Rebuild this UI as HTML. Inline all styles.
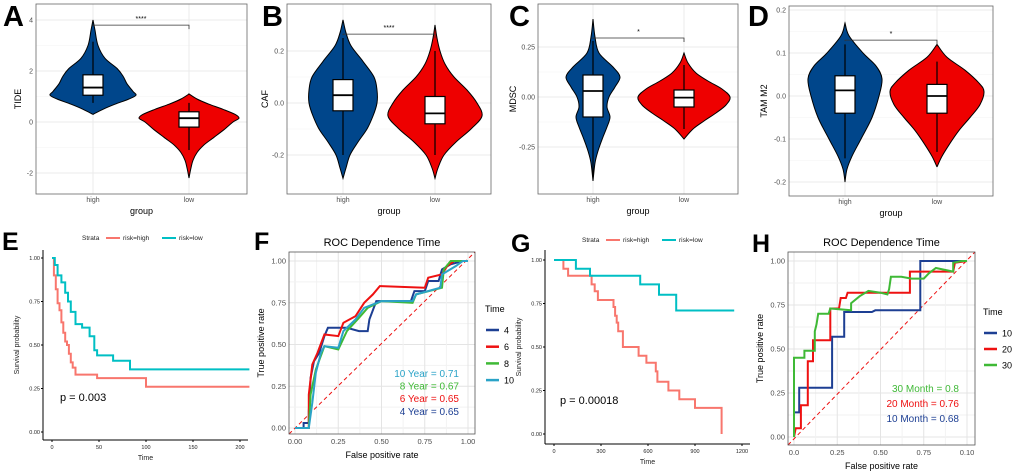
<!DOCTYPE html>
<html><head><meta charset="utf-8">
<style>
html,body{margin:0;padding:0;background:#fff;}
svg{display:block;font-family:"Liberation Sans",Arial,sans-serif;}
</style></head>
<body>
<svg id="fig" width="1020" height="474" viewBox="0 0 1020 474" xmlns="http://www.w3.org/2000/svg"></svg>
<script>
// ---------- DATA ----------
// Violin panels: density levels (value) and half-widths (relative density), boxes
const violinGroups = ["high","low"];
const aHighY = [4.0,3.6,3.0,2.5,2.1,1.8,1.5,1.2,1.05,0.9,0.7,0.5,0.3];
const aHighW = [0,2,5,12,24,30,34,40,43,36,22,10,0];
const aLowY = [1.1,0.9,0.7,0.5,0.3,0.15,0,-0.3,-0.6,-0.9,-1.2,-1.5,-1.8,-2.2];
const aLowW = [0,8,20,34,46,50,44,35,25,15,8,4,2,0];
const aHighBox = [0.75,1.05,1.35,1.85,3.15];
const aLowBox = [-1.1,-0.2,0.15,0.4,0.75];
const bHighY = [0.32,0.27,0.22,0.16,0.1,0.05,0.0,-0.05,-0.1,-0.15,-0.2,-0.25,-0.29];
const bHighW = [0,3,8,20,31,34,34,30,24,15,7,3,0];
const bLowY = [0.3,0.25,0.2,0.15,0.1,0.05,0,-0.05,-0.1,-0.15,-0.2,-0.25,-0.29];
const bLowW = [0,2,5,10,19,32,42,47,36,21,9,3,0];
const bHighBox = [-0.2,-0.03,0.03,0.09,0.25];
const bLowBox = [-0.2,-0.08,-0.04,0.025,0.2];
const cHighY = [0.39,0.3,0.22,0.15,0.1,0.05,0,-0.05,-0.1,-0.15,-0.2,-0.27,-0.33,-0.42];
const cHighW = [0,2,6,20,27,22,16,14,17,14,10,5,2,0];
const cLowY = [0.22,0.17,0.12,0.08,0.04,0.0,-0.04,-0.08,-0.12,-0.16,-0.21];
const cLowW = [0,4,12,24,38,46,42,32,20,9,0];
const cHighBox = [-0.4,-0.1,0.03,0.11,0.28];
const cLowBox = [-0.16,-0.05,-0.003,0.035,0.16];
const dHighY = [0.17,0.14,0.1,0.07,0.04,0.0,-0.05,-0.1,-0.14,-0.17,-0.2];
const dHighW = [0,4,18,31,37,34,27,16,7,2,0];
const dLowY = [0.12,0.09,0.06,0.03,0.01,-0.02,-0.05,-0.08,-0.11,-0.14,-0.165];
const dLowW = [0,10,28,42,47,43,33,22,13,5,0];
const dHighBox = [-0.145,-0.04,0.013,0.047,0.12];
const dLowBox = [-0.13,-0.04,0.0,0.027,0.08];

// KM E
const eHighT = [0,2,4,6,8,10,12,14,16,18,20,22,25,48,100,210];
const eHighS = [1.0,0.9,0.82,0.74,0.7,0.63,0.57,0.52,0.5,0.45,0.4,0.37,0.33,0.31,0.26,0.26];
const eLowT = [0,3,6,10,14,17,20,25,32,40,45,48,65,83,210];
const eLowS = [1.0,0.96,0.9,0.86,0.8,0.75,0.69,0.62,0.6,0.55,0.47,0.44,0.41,0.36,0.36];
// KM G
const gHighT = [0,60,90,240,260,280,380,390,400,410,440,540,590,650,660,730,800,900,1070];
const gHighS = [1.0,0.95,0.91,0.86,0.82,0.77,0.73,0.68,0.64,0.59,0.5,0.45,0.41,0.36,0.3,0.25,0.2,0.15,0.0];
const gLowT = [0,140,230,550,670,780,1150];
const gLowS = [1.0,0.95,0.91,0.86,0.8,0.71,0.71];

// ROC F
const f4x = [0,0.05,0.05,0.08,0.08,0.09,0.11,0.14,0.17,0.19,0.3,0.37,0.42,0.43,0.47,0.67,0.69,0.75,0.77,0.83,0.85,0.9,0.97,1];
const f4y = [0,0,0.03,0.03,0.1,0.3,0.4,0.45,0.55,0.6,0.6,0.58,0.58,0.65,0.76,0.76,0.82,0.82,0.88,0.88,0.95,0.98,1,1];
const f6x = [0,0.08,0.08,0.1,0.13,0.17,0.25,0.28,0.35,0.4,0.45,0.49,0.75,0.77,0.85,0.88,0.92,1];
const f6y = [0,0,0.2,0.38,0.45,0.56,0.55,0.63,0.67,0.75,0.8,0.85,0.84,0.9,0.92,0.97,1,1];
const f8x = [0,0.08,0.09,0.12,0.17,0.25,0.3,0.37,0.42,0.5,0.68,0.7,0.85,0.86,0.9,1];
const f8y = [0,0,0.2,0.35,0.49,0.47,0.58,0.66,0.72,0.76,0.75,0.8,0.84,0.95,1,1];
const f10x = [0,0.08,0.1,0.12,0.15,0.17,0.25,0.28,0.35,0.4,0.5,0.68,0.7,0.84,0.85,0.93,0.97,1];
const f10y = [0,0,0.15,0.33,0.45,0.49,0.48,0.58,0.65,0.72,0.76,0.76,0.8,0.84,0.92,0.97,1,1];
const fAuc = ["10 Year  =  0.71","8 Year  =  0.67","6 Year  =  0.65","4 Year  =  0.65"];
// ROC H
const h10x = [0,0,0.03,0.03,0.22,0.22,0.29,0.29,0.45,0.47,0.73,0.73,1];
const h10y = [0,0.14,0.14,0.28,0.28,0.57,0.57,0.71,0.71,0.72,0.72,1,1];
const h20x = [0,0.01,0.04,0.04,0.08,0.08,0.11,0.11,0.21,0.21,0.26,0.27,0.3,0.31,0.67,0.67,0.92,0.93,1];
const h20y = [0,0.05,0.05,0.18,0.18,0.43,0.43,0.55,0.55,0.73,0.73,0.79,0.79,0.82,0.82,0.94,0.94,0.99,1];
const h30x = [0,0,0.06,0.06,0.12,0.12,0.13,0.14,0.2,0.21,0.33,0.33,0.38,0.43,0.5,0.54,0.55,0.56,0.62,0.68,0.75,0.78,0.82,0.92,0.92,0.97,1];
const h30y = [0,0.45,0.45,0.49,0.49,0.6,0.64,0.7,0.7,0.73,0.72,0.76,0.8,0.83,0.82,0.81,0.84,0.91,0.91,0.9,0.9,0.93,0.96,0.94,0.99,1,1];
const hAuc = ["30 Month = 0.8","20 Month = 0.76","10 Month = 0.68"];

// ---------- HELPERS ----------
const NS="http://www.w3.org/2000/svg";
const svg=document.getElementById('fig');
function mk(tag,attrs,name,parent){
  const el=document.createElementNS(NS,tag);
  for(const k in attrs) el.setAttribute(k,attrs[k]);
  
  
  (parent||svg).appendChild(el);
  return el;
}
function txt(x,y,s,name,opt){
  opt=opt||{};
  const t=mk('text',{x:x,y:y,'font-size':opt.fs||7,fill:opt.fill||'#4d4d4d','text-anchor':opt.anchor||'middle','font-weight':opt.fw||'normal'},name);
  if(opt.rot) t.setAttribute('transform','rotate(-90 '+x+' '+y+')');
  t.textContent=s;return t;
}
function lin(d0,d1,r0,r1){return v=>r0+(v-d0)/(d1-d0)*(r1-r0);}
function smoothPath(pts){
  let d='M'+pts[0][0]+','+pts[0][1];
  for(let i=0;i<pts.length-1;i++){
    const p0=pts[Math.max(0,i-1)],p1=pts[i],p2=pts[i+1],p3=pts[Math.min(pts.length-1,i+2)];
    const c1=[p1[0]+(p2[0]-p0[0])/6,p1[1]+(p2[1]-p0[1])/6];
    const c2=[p2[0]-(p3[0]-p1[0])/6,p2[1]-(p3[1]-p1[1])/6];
    d+=' C'+c1[0].toFixed(1)+','+c1[1].toFixed(1)+' '+c2[0].toFixed(1)+','+c2[1].toFixed(1)+' '+p2[0].toFixed(1)+','+p2[1].toFixed(1);
  }
  return d;
}
function violinPanel(o){
  // frame/grid
  mk('rect',{x:o.x0,y:o.y0,width:o.x1-o.x0,height:o.y1-o.y0,fill:'#fff'},'plot-background');
  const ys=lin(o.d0,o.d1,o.r0,o.r1);
  o.ticks.forEach((t,i)=>{
    mk('line',{x1:o.x0,x2:o.x1,y1:ys(t),y2:ys(t),stroke:'#ebebeb','stroke-width':1},'grid-major');
    if(i<o.ticks.length-1){const m=(t+o.ticks[i+1])/2;mk('line',{x1:o.x0,x2:o.x1,y1:ys(m),y2:ys(m),stroke:'#f4f4f4','stroke-width':0.6},'grid-minor');}
    txt(o.x0-3,ys(t)+2.5,o.tickLabels[i],'y-tick-label',{anchor:'end',fs:7});
  });
  const xs=[o.hx,o.lx];
  xs.forEach(x=>mk('line',{x1:x,x2:x,y1:o.y0,y2:o.y1,stroke:'#ebebeb'},'grid-x'));
  o.vio.forEach((v,gi)=>{
    const cx=xs[gi];
    const R=v.y.map((yy,i)=>[cx+v.w[i],ys(yy)]);
    const L=v.y.map((yy,i)=>[cx-v.w[i],ys(yy)]).reverse();
    const d=smoothPath(R)+' L'+smoothPath(L).slice(1)+' Z';
    mk('path',{d:d,fill:gi?'#ee0000':'#00468b',stroke:'#000','stroke-width':1},'violin-'+violinGroups[gi]);
    const b=v.box;
    mk('line',{x1:cx,x2:cx,y1:ys(b[0]),y2:ys(b[4]),stroke:'#000','stroke-width':1.2},'whisker-'+violinGroups[gi]);
    mk('rect',{x:cx-10,y:ys(b[3]),width:20,height:ys(b[1])-ys(b[3]),fill:'#fff',stroke:'#000','stroke-width':1.2},'box-'+violinGroups[gi]);
    mk('line',{x1:cx-10,x2:cx+10,y1:ys(b[2]),y2:ys(b[2]),stroke:'#000','stroke-width':1.8},'median-'+violinGroups[gi]);
    txt(cx,o.y1+8,violinGroups[gi],'x-tick-label',{fs:7});
  });
  const by=ys(o.br);
  mk('path',{d:'M'+o.hx+','+(by+1)+' V'+by+' H'+o.lx+' V'+(by+4),fill:'none',stroke:'#333','stroke-width':0.8},'significance-bracket');
  txt((o.hx+o.lx)/2,by-4,o.sig,'significance-label',{fs:7,fill:'#000'});
  mk('rect',{x:o.x0,y:o.y0,width:o.x1-o.x0,height:o.y1-o.y0,fill:'none',stroke:'#666','stroke-width':0.8},'plot-border');
  txt((o.x0+o.x1)/2,o.y1+20,'group','x-axis-title',{fs:9,fill:'#000'});
  txt(o.x0-o.ylo,(o.y0+o.y1)/2,o.ylab,'y-axis-title',{fs:9,fill:'#000',rot:1});
  txt(o.lx0,o.ly0,o.letter,'panel-label-'+o.letter,{fs:29,fill:'#000',fw:'bold',anchor:'start'});
}

violinPanel({x0:36,x1:247,y0:4,y1:194,d0:0,d1:2,r0:122,r1:71,ticks:[4,2,0,-2],tickLabels:["4","2","0","-2"],hx:93,lx:189,
  vio:[{y:aHighY,w:aHighW,box:aHighBox},{y:aLowY,w:aLowW,box:aLowBox}],br:3.8,sig:'****',ylab:'TIDE',ylo:15,letter:'A',lx0:3,ly0:26});
violinPanel({x0:287,x1:491,y0:4,y1:194,d0:0,d1:0.2,r0:103,r1:51,ticks:[0.2,0,-0.2],tickLabels:["0.2","0.0","-0.2"],hx:343,lx:435,
  vio:[{y:bHighY,w:bHighW,box:bHighBox},{y:bLowY,w:bLowW,box:bLowBox}],br:0.265,sig:'****',ylab:'CAF',ylo:19,letter:'B',lx0:262,ly0:26});
violinPanel({x0:538,x1:738,y0:4,y1:194,d0:0,d1:0.25,r0:97,r1:47,ticks:[0.25,0,-0.25],tickLabels:["0.25","0.00","-0.25"],hx:593,lx:684,
  vio:[{y:cHighY,w:cHighW,box:cHighBox},{y:cLowY,w:cLowW,box:cLowBox}],br:0.295,sig:'*',ylab:'MDSC',ylo:22,letter:'C',lx0:509,ly0:26});
violinPanel({x0:789,x1:993,y0:6,y1:196,d0:0,d1:0.1,r0:96,r1:53,ticks:[0.2,0.1,0,-0.1,-0.2],tickLabels:["0.2","0.1","0.0","-0.1","-0.2"],hx:845,lx:937,
  vio:[{y:dHighY,w:dHighW,box:dHighBox},{y:dLowY,w:dLowW,box:dLowBox}],br:0.13,sig:'*',ylab:'TAM M2',ylo:22,letter:'D',lx0:748,ly0:26});

function kmPanel(o){
  const xs=lin(o.t0,o.t1,o.px0,o.px1), ys=lin(0,1,o.py0,o.py1);
  [[o.hT,o.hS,'#f8766d','km-risk-high'],[o.lT,o.lS,'#00bfc4','km-risk-low']].forEach(s=>{
    let d='M'+xs(s[0][0])+','+ys(s[1][0]);
    for(let i=1;i<s[0].length;i++){d+=' H'+xs(s[0][i]).toFixed(1)+' V'+ys(s[1][i]).toFixed(1);}
    mk('path',{d:d,fill:'none',stroke:s[2],'stroke-width':2},s[3]);
  });
  mk('line',{x1:o.ax,x2:o.ax,y1:o.yTop,y2:o.ay,stroke:'#000','stroke-width':1},'y-axis-line');
  mk('line',{x1:o.ax,x2:o.xEnd,y1:o.ay,y2:o.ay,stroke:'#000','stroke-width':1},'x-axis-line');
  [0,0.25,0.5,0.75,1].forEach(v=>{mk('line',{x1:o.ax-2,x2:o.ax,y1:ys(v),y2:ys(v),stroke:'#000'},'y-tick');
    txt(o.ax-3,ys(v)+2,v.toFixed(2),'y-tick-label',{anchor:'end',fs:5.5,fill:'#222'});});
  o.xt.forEach(v=>{mk('line',{x1:xs(v),x2:xs(v),y1:o.ay,y2:o.ay+2,stroke:'#000'},'x-tick');
    txt(xs(v),o.ay+9,String(v),'x-tick-label',{fs:5.5,fill:'#222'});});
  txt((o.ax+o.xEnd)/2,o.ay+20,'Time','x-axis-title',{fs:7,fill:'#222'});
  txt(o.ax-24,(o.yTop+o.ay)/2,'Survival probability','y-axis-title',{fs:7,fill:'#222',rot:1});
  txt(o.px,o.py,o.p,'p-value',{fs:11,fill:'#000',anchor:'start'});
  const ly=o.legY;
  txt(o.legX,ly+2,'Strata','legend-title',{fs:6.5,fill:'#222',anchor:'start'});
  mk('line',{x1:o.legX+24,x2:o.legX+38,y1:ly,y2:ly,stroke:'#f8766d','stroke-width':2},'legend-key-high');
  txt(o.legX+41,ly+2,'risk=high','legend-label-high',{fs:6.5,fill:'#222',anchor:'start'});
  mk('line',{x1:o.legX+80,x2:o.legX+94,y1:ly,y2:ly,stroke:'#00bfc4','stroke-width':2},'legend-key-low');
  txt(o.legX+97,ly+2,'risk=low','legend-label-low',{fs:6.5,fill:'#222',anchor:'start'});
  txt(o.lx0,o.ly0,o.letter,'panel-label-'+o.letter,{fs:25,fill:'#000',fw:'bold',anchor:'start'});
}
kmPanel({t0:0,t1:50,px0:52,px1:99,py0:432,py1:258,hT:eHighT,hS:eHighS,lT:eLowT,lS:eLowS,ax:43,ay:440,yTop:250,xEnd:248,
  xt:[0,50,100,150,200],p:'p = 0.003',px:60,py:401,legX:82,legY:238,letter:'E',lx0:2,ly0:250});
kmPanel({t0:0,t1:300,px0:554,px1:601,py0:434,py1:260,hT:gHighT,hS:gHighS,lT:gLowT,lS:gLowS,ax:545,ay:444,yTop:250,xEnd:750,
  xt:[0,300,600,900,1200],p:'p = 0.00018',px:560,py:404,legX:582,legY:240,letter:'G',lx0:511,ly0:252});

function rocPanel(o){
  const xs=lin(0,1,o.x00,o.x100), ys=lin(0,1,o.y00,o.y100);
  mk('rect',{x:o.bx0,y:o.by0,width:o.bx1-o.bx0,height:o.by1-o.by0,fill:'#fff'},'plot-background');
  [0,0.25,0.5,0.75,1].forEach((v,i)=>{
    mk('line',{x1:o.bx0,x2:o.bx1,y1:ys(v),y2:ys(v),stroke:'#e4e4e4'},'grid-major-y');
    mk('line',{x1:xs(v),x2:xs(v),y1:o.by0,y2:o.by1,stroke:'#e4e4e4'},'grid-major-x');
    if(v<1){mk('line',{x1:o.bx0,x2:o.bx1,y1:ys(v+0.125),y2:ys(v+0.125),stroke:'#f2f2f2'},'grid-minor-y');
      mk('line',{x1:xs(v+0.125),x2:xs(v+0.125),y1:o.by0,y2:o.by1,stroke:'#f2f2f2'},'grid-minor-x');}
    txt(o.bx0-3,ys(v)+2.5,v.toFixed(2),'y-tick-label',{anchor:'end',fs:7.5});
    txt(xs(v),o.by1+10,o.xLabels[i],'x-tick-label',{fs:7.5});
  });
  mk('line',{x1:o.bx0,y1:o.by1,x2:o.bx1,y2:o.by0,stroke:'#ee1111','stroke-width':1,'stroke-dasharray':'4,3'},'reference-diagonal');
  o.series.forEach(s=>{
    const pts=s.x.map((x,i)=>xs(x).toFixed(1)+','+ys(s.y[i]).toFixed(1)).join(' ');
    mk('polyline',{points:pts,fill:'none',stroke:s.c,'stroke-width':2},'roc-curve-'+s.n);
  });
  mk('rect',{x:o.bx0,y:o.by0,width:o.bx1-o.bx0,height:o.by1-o.by0,fill:'none',stroke:'#555','stroke-width':0.8},'plot-border');
  txt((o.bx0+o.bx1)/2,o.by0-6,'ROC Dependence Time','chart-title',{fs:11,fill:'#000'});
  txt((o.bx0+o.bx1)/2,o.by1+24,'False positive rate','x-axis-title',{fs:9,fill:'#000'});
  txt(o.bx0-25,(o.by0+o.by1)/2,'True positive rate','y-axis-title',{fs:9,fill:'#000',rot:1});
  txt(o.legX,o.legY,'Time','legend-title',{fs:9,fill:'#000',anchor:'start'});
  o.series.forEach((s,i)=>{
    const y=o.legY+18+i*o.legStep;
    mk('line',{x1:o.legX+1,x2:o.legX+14,y1:y,y2:y,stroke:s.c,'stroke-width':2.5},'legend-key-'+s.n);
    txt(o.legX+19,y+3.5,s.n,'legend-label-'+s.n,{fs:9,fill:'#000',anchor:'start'});
  });
  o.auc.forEach((a,i)=>txt(o.aucX,o.aucY+i*o.aucStep,a,'auc-label',{fs:10,fill:o.aucC[i],anchor:'end'}));
  txt(o.lx0,o.ly0,o.letter,'panel-label-'+o.letter,{fs:25,fill:'#000',fw:'bold',anchor:'start'});
}
rocPanel({x00:295,x100:468,y00:428,y100:261,bx0:289,bx1:475,by0:252,by1:434,xLabels:["0.00","0.25","0.50","0.75","1.00"],
  series:[{n:'4',x:f4x,y:f4y,c:'#1d3f93'},{n:'6',x:f6x,y:f6y,c:'#ee1111'},{n:'8',x:f8x,y:f8y,c:'#3fb936'},{n:'10',x:f10x,y:f10y,c:'#2aa3c7'}],
  legX:485,legY:312,legStep:16.7,auc:fAuc,aucC:['#2aa3c7','#3fb936','#ee1111','#1d3f93'],aucX:459,aucY:377,aucStep:12.6,letter:'F',lx0:254,ly0:250});
rocPanel({x00:794,x100:967,y00:437,y100:261,bx0:788,bx1:975,by0:252,by1:445,xLabels:["0.0","0.25","0.50","0.75","0.10"],
  series:[{n:'10',x:h10x,y:h10y,c:'#1d3f93'},{n:'20',x:h20x,y:h20y,c:'#ee1111'},{n:'30',x:h30x,y:h30y,c:'#3fb936'}],
  legX:983,legY:315,legStep:16,auc:hAuc,aucC:['#3fb936','#ee1111','#1d3f93'],aucX:959,aucY:392,aucStep:15,letter:'H',lx0:752,ly0:252});
</script>
</body></html>
